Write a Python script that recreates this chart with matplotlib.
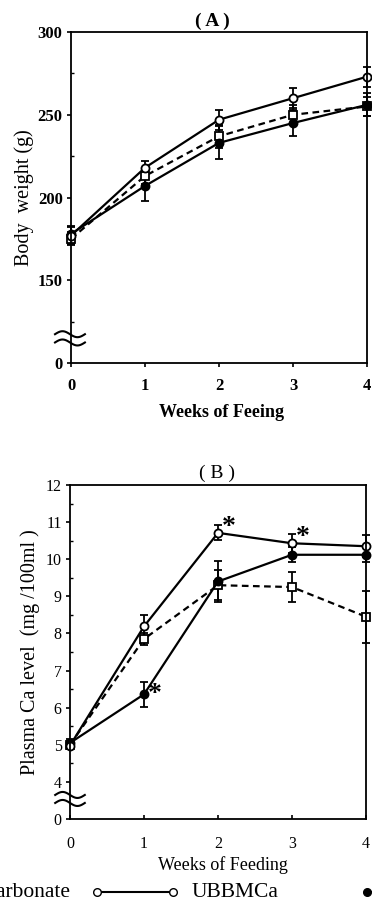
import numpy as np
import matplotlib.pyplot as plt
from matplotlib.lines import Line2D

plt.rcParams['font.family'] = ['Liberation Serif', 'DejaVu Serif']

weeks = [0, 1, 2, 3, 4]

# (A) body weight (g)
bw_ubbmca = [177, 218, 247, 260, 273]
bw_ubbmca_sd = [5, 4, 6, 6, 6]
bw_caco3 = [175, 213, 237, 250, 255]
bw_caco3_sd = [4, 5, 7, 6, 6]
bw_filled = [178, 207, 233, 245, 256]
bw_filled_sd = [5, 9, 10, 8, 7]

# (B) plasma Ca level (mg/100ml)
ca_ubbmca = [4.98, 8.19, 10.71, 10.43, 10.35]
ca_ubbmca_sd = [0.1, 0.3, 0.2, 0.25, 0.3]
ca_caco3 = [5.0, 7.85, 9.3, 9.25, 8.45]
ca_caco3_sd = [0.1, 0.15, 0.4, 0.4, 0.7]
ca_filled = [5.05, 6.36, 9.4, 10.12, 10.12]
ca_filled_sd = [0.1, 0.33, 0.55, 0.2, 0.2]

# weeks with significance marks
star_open = [2, 3]
star_filled = [1]

W, H = 372, 913
fig = plt.figure(figsize=(W / 100, H / 100), dpi=100)


def px(x0, y0, x1, y1):
    # axes rect from pixel corners
    return [x0 / W, 1 - y1 / H, (x1 - x0) / W, (y1 - y0) / H]


def series(ax, y, sd, style):
    if style == 'open':
        kw = dict(ls='-', marker='o', mfc='white', ms=5.8)
    elif style == 'square':
        kw = dict(ls=(0, (3, 2)), marker='s', mfc='white', ms=5.5)
    else:
        kw = dict(ls='-', marker='o', mfc='black', ms=5.8)
    c = ax.errorbar(weeks, y, yerr=sd, color='black', mec='black', mew=1.3,
                    lw=1.6, elinewidth=1.3, capsize=3, capthick=1.3, **kw)
    for a in c.get_children():
        a.set_clip_on(False)


def tilde(ax, x0, x1, y0, amp):
    t = np.linspace(0, 1, 60)
    ax.plot(x0 + (x1 - x0) * t, y0 + amp * np.sin(2 * np.pi * t),
            color='black', lw=1.5, transform=ax.transAxes, clip_on=False)


# ---------- panel A ----------
axA = fig.add_axes(px(71, 32, 367, 363))
series(axA, bw_caco3, bw_caco3_sd, 'square')
series(axA, bw_filled, bw_filled_sd, 'filled')
series(axA, bw_ubbmca, bw_ubbmca_sd, 'open')
axA.set_xlim(0, 4)
axA.set_ylim(100, 300)
axA.set_xticks(weeks)
axA.set_yticks([100, 150, 200, 250, 300])
axA.set_yticklabels(['0', '150', '200', '250', '300'])
axA.set_yticks([125, 175, 225, 275], minor=True)
axA.tick_params(axis='y', which='major', direction='out', length=3, width=1.2,
                pad=3, labelsize=12)
axA.tick_params(axis='y', which='minor', direction='in', length=2.5, width=1)
axA.tick_params(axis='x', direction='out', length=3, width=1.2, pad=8, labelsize=12)
for lab in axA.get_xticklabels() + axA.get_yticklabels():
    lab.set_fontweight('bold')
axA.set_xlabel('Weeks of Feeing', fontsize=13, fontweight='bold', va='center')
axA.xaxis.set_label_coords(0.507, -0.151)
axA.set_ylabel('Body  weight (g)', fontsize=14.5, va='center')
axA.yaxis.set_label_coords(-0.159, 0.5)
axA.text(0.476, 1.031, '( A )', transform=axA.transAxes, ha='center', va='center',
         fontsize=14, fontweight='bold')
tilde(axA, -0.054, 0.047, 0.087, 0.009)
tilde(axA, -0.054, 0.047, 0.062, 0.009)
for s in axA.spines.values():
    s.set_linewidth(1.3)

# ---------- panel B ----------
axB = fig.add_axes(px(70, 485, 366, 819))
series(axB, ca_caco3, ca_caco3_sd, 'square')
series(axB, ca_filled, ca_filled_sd, 'filled')
series(axB, ca_ubbmca, ca_ubbmca_sd, 'open')
axB.set_xlim(0, 4)
axB.set_ylim(3, 12)
axB.set_xticks(weeks)
axB.set_yticks(np.arange(3, 13))
axB.set_yticklabels(['0'] + [str(v) for v in range(4, 13)])
axB.set_yticks(np.arange(4.5, 12, 1.0), minor=True)
axB.tick_params(axis='y', which='major', direction='out', length=3, width=1.2,
                pad=3, labelsize=11.5)
axB.tick_params(axis='y', which='minor', direction='in', length=2.5, width=1)
axB.tick_params(axis='x', direction='in', length=3, width=1.2, pad=12, labelsize=11.5)
axB.set_xlabel('Weeks of Feeding', fontsize=13, va='center')
axB.xaxis.set_label_coords(0.515, -0.138)
axB.set_ylabel('Plasma Ca level  (mg /100ml )', fontsize=14.5, va='center')
axB.yaxis.set_label_coords(-0.136, 0.5)
axB.text(0.498, 1.036, '( B )', transform=axB.transAxes, ha='center', va='center',
         fontsize=14)
for i in star_open:
    axB.annotate('*', xy=(weeks[i], ca_ubbmca[i]), xytext=(8, 4),
                 textcoords='offset points', ha='center', va='center',
                 fontsize=20, fontweight='bold', annotation_clip=False)
for i in star_filled:
    axB.annotate('*', xy=(weeks[i], ca_filled[i]), xytext=(8, 0),
                 textcoords='offset points', ha='center', va='center',
                 fontsize=20, fontweight='bold', annotation_clip=False)
tilde(axB, -0.05, 0.05, 0.072, 0.009)
tilde(axB, -0.05, 0.05, 0.048, 0.009)
for s in axB.spines.values():
    s.set_linewidth(1.3)

# ---------- legend row (cropped at the edges) ----------
ly = 1 - 892 / H
fig.text(70 / W, ly, 'Calcium carbonate', ha='right', va='center', fontsize=15.5)
fig.add_artist(Line2D([97 / W, 173 / W], [ly, ly], color='black', lw=1.5,
                      marker='o', mfc='white', mec='black', ms=5.5,
                      transform=fig.transFigure))
fig.text(192 / W, ly, 'UBBMCa', ha='left', va='center', fontsize=15.5)
fig.add_artist(Line2D([367 / W, 450 / W], [ly, ly], color='black', lw=1.5,
                      marker='o', mfc='black', mec='black', ms=5.5,
                      transform=fig.transFigure))

fig.savefig('out.png', dpi=100)
